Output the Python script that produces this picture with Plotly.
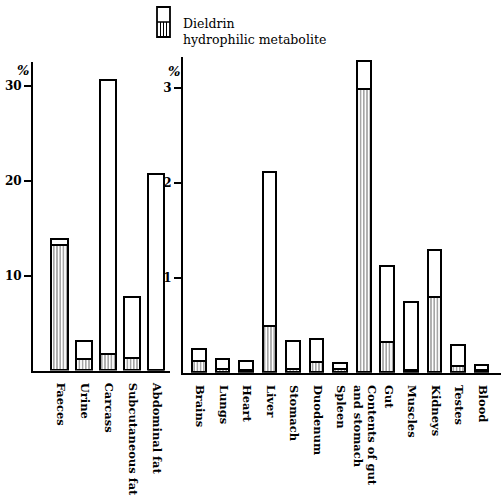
import plotly.graph_objects as go

# ---- data ----
left_cats = ["Faeces", "Urine", "Carcass", "Subcutaneous fat", "Abdominal fat"]
left_hydro = [13.1, 1.1, 1.6, 1.2, 0.0]
left_dield = [0.6, 1.9, 28.9, 6.4, 20.6]

right_cats = ["Brains", "Lungs", "Heart", "Liver", "Stomach", "Duodenum", "Spleen",
              "Contents of gut<br>and stomach", "Gut", "Muscles", "Kidneys", "Testes", "Blood"]
right_hydro = [0.11, 0.03, 0.02, 0.48, 0.03, 0.10, 0.03, 2.97, 0.31, 0.02, 0.78, 0.06, 0.02]
right_dield = [0.13, 0.10, 0.09, 1.62, 0.29, 0.24, 0.06, 0.30, 0.80, 0.71, 0.50, 0.22, 0.05]

left_ticks = [10, 20, 30]
right_ticks = [1, 2, 3]

legend_labels = ["Dieldrin", "hydrophilic metabolite"]

W, H = 501, 499
FONT = "DejaVu Serif"

def px(x):
    return x / W

def py(y):
    return 1 - y / H

hatch = dict(shape="|", fgcolor="black", bgcolor="white", size=3.2, solidity=0.35)
outline = dict(color="black", width=1.8)

lx = list(range(len(left_cats)))
rx = list(range(len(right_cats)))

fig = go.Figure()
fig.add_trace(go.Bar(x=lx, y=left_hydro, xaxis="x", yaxis="y", width=0.68,
                     marker=dict(color="white", pattern=hatch, line=outline),
                     name=legend_labels[1], showlegend=False))
fig.add_trace(go.Bar(x=lx, y=left_dield, xaxis="x", yaxis="y", width=0.68,
                     marker=dict(color="white", line=outline),
                     name=legend_labels[0], showlegend=False))
fig.add_trace(go.Bar(x=rx, y=right_hydro, xaxis="x2", yaxis="y2", width=0.58,
                     marker=dict(color="white", pattern=hatch, line=outline),
                     name=legend_labels[1], showlegend=False))
fig.add_trace(go.Bar(x=rx, y=right_dield, xaxis="x2", yaxis="y2", width=0.58,
                     marker=dict(color="white", line=outline),
                     name=legend_labels[0], showlegend=False))

tickfont = dict(family=FONT, size=12, color="#000000", weight="bold")
xtickfont = dict(family=FONT, size=11.5, color="#000000", weight="bold")

fig.update_layout(
    width=W, height=H,
    margin=dict(l=0, r=0, t=0, b=0),
    paper_bgcolor="white", plot_bgcolor="white",
    barmode="stack", bargap=0,
    showlegend=False,
    xaxis=dict(domain=[px(33), px(170)], range=[-1.15, 4.55],
               tickmode="array", tickvals=lx, ticktext=left_cats, tickangle=90,
               tickfont=xtickfont, showline=True, linecolor="black", linewidth=1.8,
               ticks="", showgrid=False, zeroline=False, ticklabelstandoff=8,
               automargin=False, fixedrange=True),
    yaxis=dict(domain=[py(370.5), py(62)], range=[0, 32.5],
               tickmode="array", tickvals=left_ticks, ticktext=[str(t) for t in left_ticks],
               tickfont=tickfont, showline=True, linecolor="black", linewidth=1.8,
               ticks="outside", ticklen=7, tickwidth=1.5, tickcolor="black",
               showgrid=False, zeroline=False, automargin=False, anchor="x"),
    xaxis2=dict(domain=[px(183), px(501)], range=[-0.72, 12.79],
                tickmode="array", tickvals=rx, ticktext=right_cats, tickangle=90,
                tickfont=xtickfont, showline=True, linecolor="black", linewidth=1.8,
                ticks="", showgrid=False, zeroline=False, ticklabelstandoff=8,
                automargin=False, anchor="y2"),
    yaxis2=dict(domain=[py(372.7), py(57.2)], range=[0, 3.32],
                tickmode="array", tickvals=right_ticks, ticktext=[str(t) for t in right_ticks],
                tickfont=tickfont, showline=True, linecolor="black", linewidth=1.8,
                ticks="outside", ticklen=7, tickwidth=1.5, tickcolor="black",
                showgrid=False, zeroline=False, automargin=False, anchor="x2"),
)

pct_font = dict(family=FONT, size=13, color="#000000", weight="bold", style="italic")
fig.add_annotation(x=px(15), y=py(61), xref="paper", yref="paper", text="%",
                   showarrow=False, font=pct_font)
fig.add_annotation(x=px(174), y=py(62), xref="paper", yref="paper", text="%",
                   showarrow=False, font=pct_font)

# ---- manual legend (box split into plain and hatched halves) ----
lx0, lx1, ly0, lym, ly1 = 157, 170, 7, 22, 37
fig.add_shape(type="rect", xref="paper", yref="paper",
              x0=px(lx0), x1=px(lx1), y0=py(ly1), y1=py(ly0),
              line=dict(color="black", width=1.8), fillcolor="white")
fig.add_shape(type="line", xref="paper", yref="paper",
              x0=px(lx0), x1=px(lx1), y0=py(lym), y1=py(lym),
              line=dict(color="black", width=1.5))
for hx in [160.5, 163.5, 166.5]:
    fig.add_shape(type="line", xref="paper", yref="paper",
                  x0=px(hx), x1=px(hx), y0=py(ly1), y1=py(lym),
                  line=dict(color="black", width=1))
leg_font = dict(family=FONT, size=12.5, color="#000000")
fig.add_annotation(x=px(181), y=py(14), xref="paper", yref="paper", text=legend_labels[0],
                   xanchor="left", showarrow=False, font=leg_font)
fig.add_annotation(x=px(181), y=py(30), xref="paper", yref="paper", text=legend_labels[1],
                   xanchor="left", showarrow=False, font=leg_font)

fig.write_html("out.html", config={"displayModeBar": False},
               post_script="document.body.style.margin='0';")
